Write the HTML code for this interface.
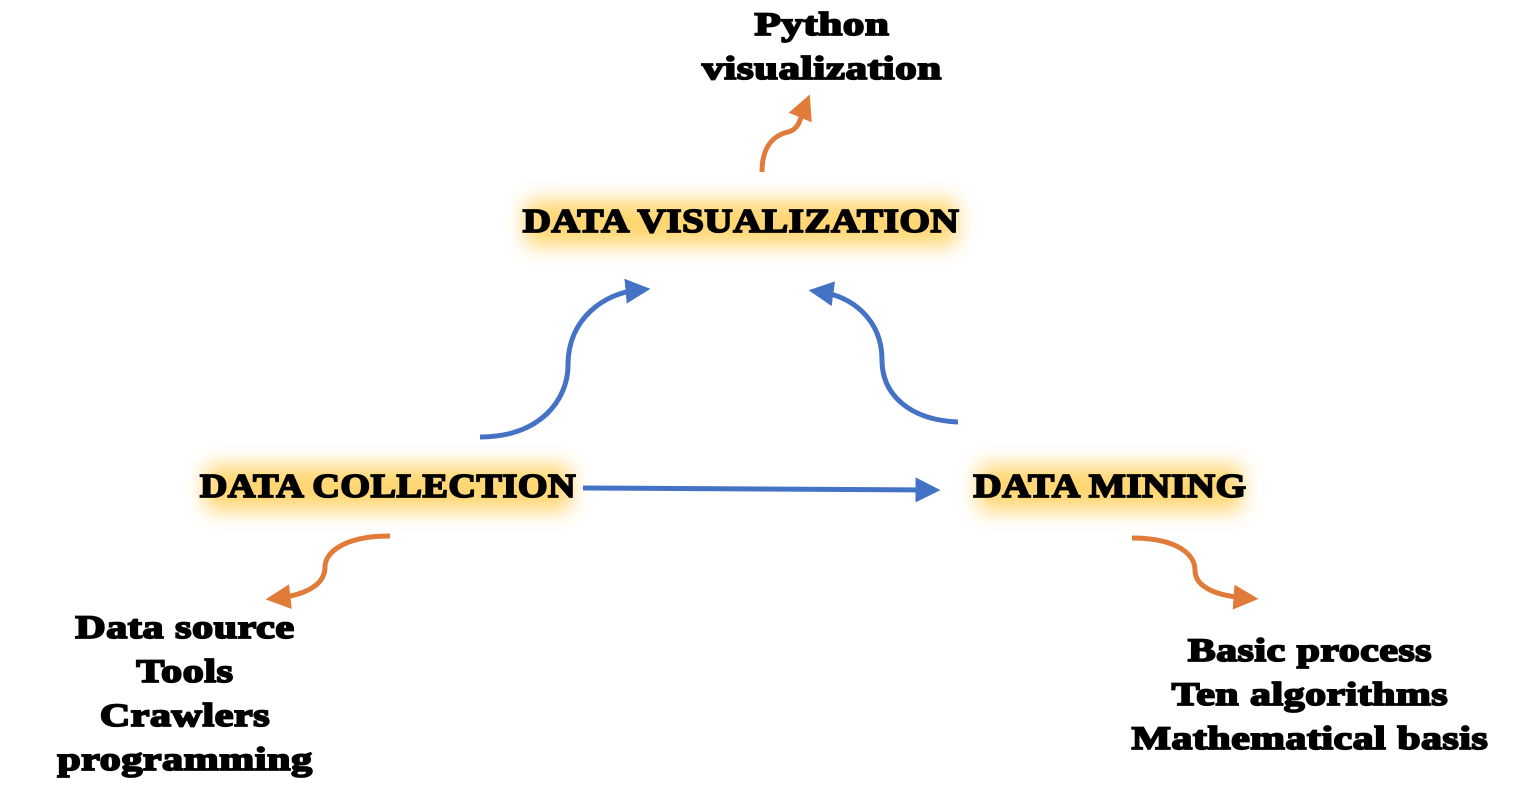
<!DOCTYPE html>
<html><head><meta charset="utf-8">
<style>
html,body{margin:0;padding:0;background:#fff;}
body{width:1518px;height:790px;position:relative;overflow:hidden;font-family:"Liberation Serif",serif;font-weight:bold;color:#000;}
.t{position:absolute;white-space:nowrap;text-align:center;-webkit-text-stroke:1.8px #000;letter-spacing:0.5px;transform-origin:50% 50%;}
.glow{position:absolute;background:#ffcf5a;filter:blur(10px);opacity:0.85;border-radius:8px;}
</style></head><body>
<div class="glow" style="left:525px;top:200px;width:432px;height:46px;"></div>
<div class="glow" style="left:205px;top:465px;width:366px;height:46px;"></div>
<div class="glow" style="left:978px;top:465px;width:264px;height:46px;"></div>

<svg width="1518" height="790" style="position:absolute;left:0;top:0">
<defs>
<marker id="b" markerWidth="5" markerHeight="5" refX="2.5" refY="2.5" orient="auto" markerUnits="strokeWidth"><path d="M0,0 L5,2.5 L0,5 z" fill="#4472C4"/></marker>
<marker id="o" markerWidth="5" markerHeight="5" refX="2.5" refY="2.5" orient="auto" markerUnits="strokeWidth"><path d="M0,0 L5,2.5 L0,5 z" fill="#E07B39"/></marker>
</defs>
<g fill="none" stroke-width="5">
<path d="M480,437 C540,437 568,400 568,365 C568,318 605,293 638,290" stroke="#4472C4" marker-end="url(#b)"/>
<path d="M958,422 C910,420 882,395 882,360 C882,318 850,296 821,292" stroke="#4472C4" marker-end="url(#b)"/>
<path d="M583,488 L760,489 L928,490" stroke="#4472C4" marker-end="url(#b)"/>
<path d="M762,172 C762,145 775,135 788,132 C800,129 800,118 805,106" stroke="#E07B39" marker-end="url(#o)"/>
<path d="M390,536 C345,536 325,552 325,567 C325,585 305,595 278,598" stroke="#E07B39" marker-end="url(#o)"/>
<path d="M1132,538 C1178,538 1195,555 1195,570 C1195,588 1218,596 1246,598" stroke="#E07B39" marker-end="url(#o)"/>
</g>
</svg>

<div class="t" style="left:622px;top:3px;width:400px;font-size:33px;line-height:44px;transform:scaleX(1.3);">Python<br>visualization</div>
<div class="t" style="left:480px;top:200px;width:522px;font-size:34px;line-height:44px;transform:scaleX(1.15);">DATA VISUALIZATION</div>
<div class="t" style="left:170px;top:465px;width:436px;font-size:34px;line-height:44px;transform:scaleX(1.12);">DATA COLLECTION</div>
<div class="t" style="left:940px;top:465px;width:340px;font-size:34px;line-height:44px;transform:scaleX(1.15);">DATA MINING</div>
<div class="t" style="left:0px;top:606px;width:370px;font-size:33px;line-height:44px;transform:scaleX(1.27);">Data source<br>Tools<br>Crawlers<br>programming</div>
<div class="t" style="left:1110px;top:629px;width:400px;font-size:33px;line-height:44px;transform:scaleX(1.26);">Basic process<br>Ten algorithms<br>Mathematical basis</div>
</body></html>
